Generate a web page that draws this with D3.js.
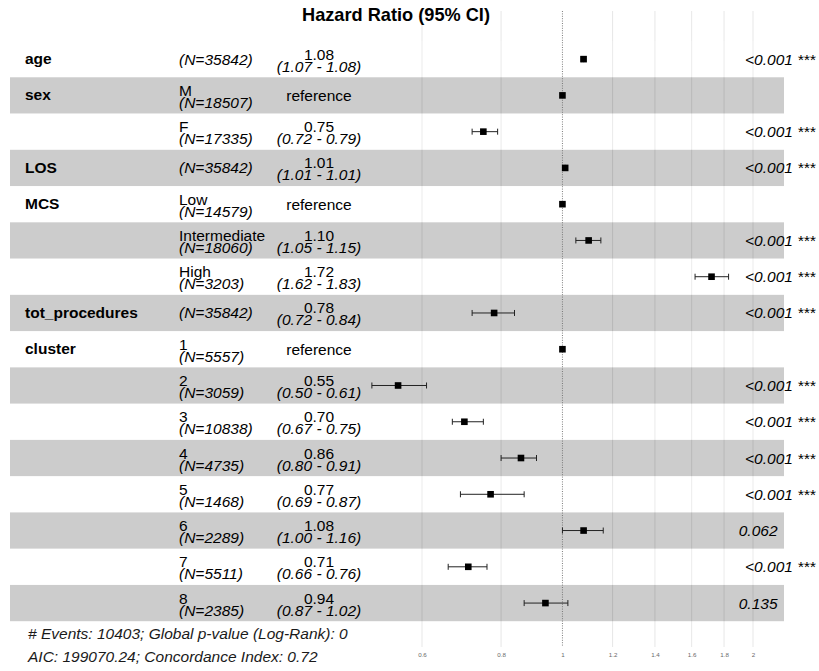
<!DOCTYPE html>
<html>
<head>
<meta charset="utf-8">
<script src="https://cdn.jsdelivr.net/npm/d3@7"></script>
<style>
  html, body { margin: 0; padding: 0; background: #ffffff; }
  svg { display: block; font-family: "Liberation Sans", Arial, Helvetica, sans-serif; }
</style>
</head>
<body>
<svg id="chart" width="819" height="671"></svg>
<script>
// ---- data ----
const variables = ["age", "sex", "", "LOS", "MCS", "", "", "tot_procedures", "cluster", "", "", "", "", "", "", ""];
const levels    = ["", "M", "F", "", "Low", "Intermediate", "High", "", "1", "2", "3", "4", "5", "6", "7", "8"];
const counts    = [35842, 18507, 17335, 35842, 14579, 18060, 3203, 35842, 5557, 3059, 10838, 4735, 1468, 2289, 5511, 2385];
const isReference = [false, true, false, false, true, false, false, false, true, false, false, false, false, false, false, false];
const hazard    = [1.08, 1, 0.75, 1.01, 1, 1.10, 1.72, 0.78, 1, 0.55, 0.70, 0.86, 0.77, 1.08, 0.71, 0.94];
const ciLow     = [1.07, 1, 0.72, 1.01, 1, 1.05, 1.62, 0.72, 1, 0.50, 0.67, 0.80, 0.69, 1.00, 0.66, 0.87];
const ciHigh    = [1.08, 1, 0.79, 1.01, 1, 1.15, 1.83, 0.84, 1, 0.61, 0.75, 0.91, 0.87, 1.16, 0.76, 1.02];
const pLabels   = ["<0.001 ***", "", "<0.001 ***", "<0.001 ***", "", "<0.001 ***", "<0.001 ***", "<0.001 ***", "",
                   "<0.001 ***", "<0.001 ***", "<0.001 ***", "<0.001 ***", "0.062", "<0.001 ***", "0.135"];
const tickValues = [0.6, 0.8, 1, 1.2, 1.4, 1.6, 1.8, 2];
const tickLabels = ["0.6", "0.8", "1", "1.2", "1.4", "1.6", "1.8", "2"];
const titleText = "Hazard Ratio (95% CI)";
const footerLines = ["# Events: 10403; Global p-value (Log-Rank): 0", "AIC: 199070.24; Concordance Index: 0.72"];

// ---- layout ----
const svg = d3.select("#chart");
const FS = 15.5;
const panelLeft = 10, panelRight = 784;
const gridTop = 11, gridBottom = 647;

const x = d3.scaleLog().domain([0.6, 2]).range([422, 753]);
const rows = d3.range(variables.length);
const y = d3.scaleBand().domain(rows).range([41, 621.2]).padding(0);
const cy = i => y(i) + y.bandwidth() / 2;

// grid lines
svg.append("g").selectAll("line")
  .data(tickValues.filter(v => v !== 1))
  .join("line")
  .attr("x1", d => x(d)).attr("x2", d => x(d))
  .attr("y1", gridTop).attr("y2", gridBottom)
  .attr("stroke", "#dcdcdc").attr("stroke-width", 0.7);

// row shading
svg.append("g").selectAll("rect")
  .data(rows)
  .join("rect")
  .attr("x", panelLeft).attr("width", panelRight - panelLeft)
  .attr("y", d => y(d)).attr("height", y.bandwidth())
  .attr("fill", d => d % 2 === 1 ? "rgba(0,0,0,0.2)" : "rgba(255,255,255,0.2)");

// reference dotted line
svg.append("line")
  .attr("x1", x(1)).attr("x2", x(1))
  .attr("y1", gridTop).attr("y2", gridBottom)
  .attr("stroke", "#6e6e6e").attr("stroke-width", 0.9)
  .attr("stroke-dasharray", "1,1.4");

// tick labels (axis)
const axis = d3.axisBottom(x).tickValues(tickValues)
  .tickFormat((d, i) => tickLabels[i]).tickSize(0).tickPadding(0);
const axisG = svg.append("g").attr("transform", `translate(0,${653})`).call(axis);
axisG.select(".domain").remove();
axisG.selectAll("text")
  .attr("font-size", 6.2).attr("fill", "#6a6a6a")
  .attr("font-family", "Liberation Sans, Arial, sans-serif");

// error bars
const eb = svg.append("g");
rows.filter(i => !isReference[i]).forEach(i => {
  const yc = cy(i);
  eb.append("line").attr("x1", x(ciLow[i])).attr("x2", x(ciHigh[i]))
    .attr("y1", yc).attr("y2", yc).attr("stroke", "#222").attr("stroke-width", 1);
  [ciLow[i], ciHigh[i]].forEach(v => {
    eb.append("line").attr("x1", x(v)).attr("x2", x(v))
      .attr("y1", yc - 3).attr("y2", yc + 3).attr("stroke", "#222").attr("stroke-width", 1);
  });
});

// points
const S = 6.6;
svg.append("g").selectAll("rect")
  .data(rows)
  .join("rect")
  .attr("x", d => x(hazard[d]) - S / 2)
  .attr("y", d => cy(d) - S / 2)
  .attr("width", S).attr("height", S)
  .attr("fill", "#000");

// text columns
const tg = svg.append("g").attr("font-size", FS).attr("fill", "#000");

// variable names
tg.selectAll("text.var")
  .data(rows.filter(i => variables[i] !== ""))
  .join("text").attr("class", "var")
  .attr("x", 25).attr("y", d => cy(d) + 5)
  .attr("font-weight", "bold")
  .text(d => variables[d]);

// levels
tg.selectAll("text.lvl")
  .data(rows.filter(i => levels[i] !== ""))
  .join("text").attr("class", "lvl")
  .attr("x", 179).attr("y", d => cy(d) + 0.5)
  .text(d => levels[d]);

// N
tg.selectAll("text.n")
  .data(rows)
  .join("text").attr("class", "n")
  .attr("x", 179)
  .attr("y", d => levels[d] === "" ? cy(d) + 5.5 : cy(d) + 12.5)
  .attr("font-style", "italic")
  .text(d => `(N=${counts[d]})`);

// estimate
const ESTX = 319;
tg.selectAll("text.est")
  .data(rows)
  .join("text").attr("class", "est")
  .attr("x", ESTX).attr("text-anchor", "middle")
  .attr("y", d => isReference[d] ? cy(d) + 5.5 : cy(d) + 0.5)
  .text(d => isReference[d] ? "reference" : hazard[d].toFixed(2));

// CI
tg.selectAll("text.ci")
  .data(rows.filter(i => !isReference[i]))
  .join("text").attr("class", "ci")
  .attr("x", ESTX).attr("text-anchor", "middle")
  .attr("y", d => cy(d) + 12.5)
  .attr("font-style", "italic")
  .text(d => `(${ciLow[d].toFixed(2)} - ${ciHigh[d].toFixed(2)})`);

// p-values (left aligned with hjust = -0.2 offset)
const PX = 731;
tg.selectAll("text.p")
  .data(rows.filter(i => pLabels[i] !== ""))
  .join("text").attr("class", "p")
  .attr("y", d => cy(d) + 5.5)
  .attr("font-style", "italic")
  .text(d => pLabels[d])
  .attr("x", function () { return PX + 0.2 * this.getComputedTextLength(); });

// title
svg.append("text")
  .attr("x", 396).attr("y", 21)
  .attr("text-anchor", "middle")
  .attr("font-size", 18.2).attr("font-weight", "bold")
  .text(titleText);

// footer
svg.append("g").selectAll("text")
  .data(footerLines)
  .join("text")
  .attr("x", 28).attr("y", (d, i) => 639 + i * 22.5)
  .attr("font-size", FS).attr("font-style", "italic").attr("fill", "#1a1a1a")
  .text(d => d);
</script>
</body>
</html>
